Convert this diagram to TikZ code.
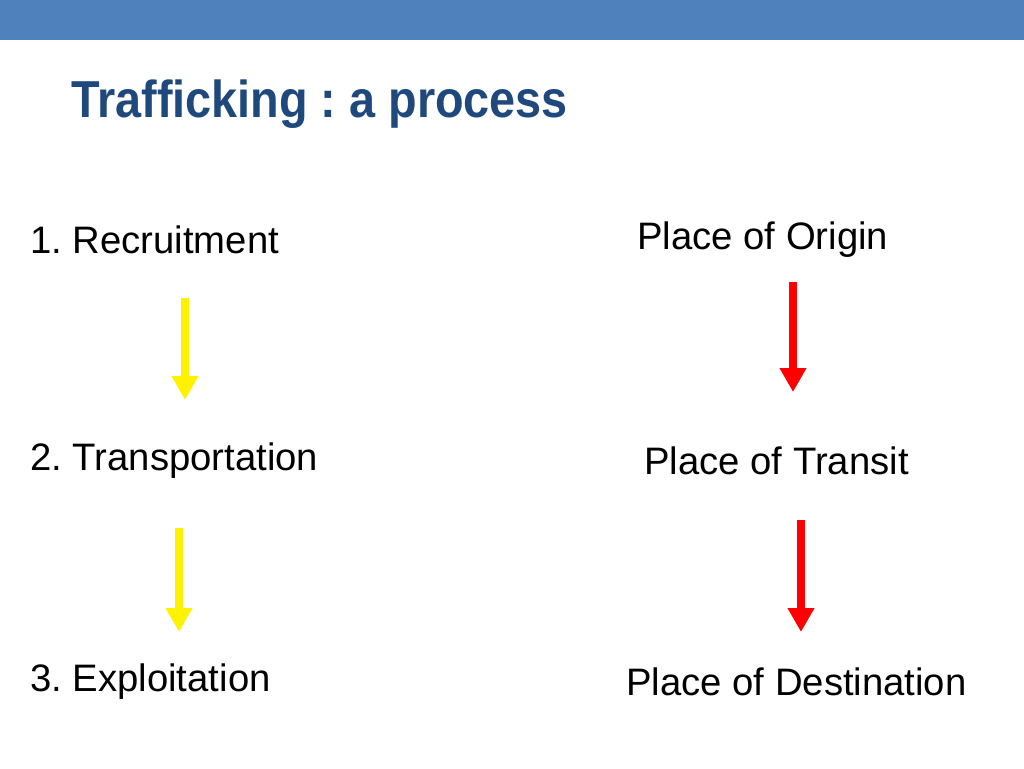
\documentclass[tikz,border=0pt]{standalone}
\usepackage{fontspec}
\setmainfont{Liberation Sans}
\usetikzlibrary{positioning,arrows.meta}
\definecolor{barblue}{HTML}{4F81BD}
\definecolor{titleblue}{HTML}{1F497D}
\frenchspacing
\tikzset{
  item/.style={anchor=west,inner sep=0pt,font=\fontsize{28.7}{32}\selectfont},
  flow/.style={line width=5.5pt,-{Triangle[length=18pt,width=19pt]}}
}
\begin{document}
\begin{tikzpicture}[x=0.75pt,y=-0.75pt]
		\useasboundingbox (0,0) rectangle (1024,768);
		\fill[barblue] (0,0) rectangle (1024,40);
		\node[anchor=west,inner sep=0pt,text=titleblue,font=\fontsize{39}{42}\selectfont\bfseries] (title) at (71,104) {\addfontfeature{FakeStretch=0.9}Trafficking : a process};
		\node[item] (rec) at (30,240) {1. Recruitment};
		\node[item] (tra) at (30,461) {2. Transportation};
		\node[item] (exp) at (30,682) {3. Exploitation};
		\node[item] (ori) at (637,240) {Place of Origin};
		\node[item] (tsi) at (644,461) {Place of Transit};
		\node[item] (des) at (626,682) {Place of Destination};
		\coordinate (y1a) at (185,298);
		\coordinate (y1b) at (185,400);
		\coordinate (y2a) at (179,528);
		\coordinate (y2b) at (179,632);
		\coordinate (r1a) at (793,282);
		\coordinate (r1b) at (793,392);
		\coordinate (r2a) at (801,520);
		\coordinate (r2b) at (801,632);
		\draw[flow,yellow] (y1a) -- (y1b);
		\draw[flow,yellow] (y2a) -- (y2b);
		\draw[flow,red] (r1a) -- (r1b);
		\draw[flow,red] (r2a) -- (r2b);
	\end{tikzpicture}
\end{document}
